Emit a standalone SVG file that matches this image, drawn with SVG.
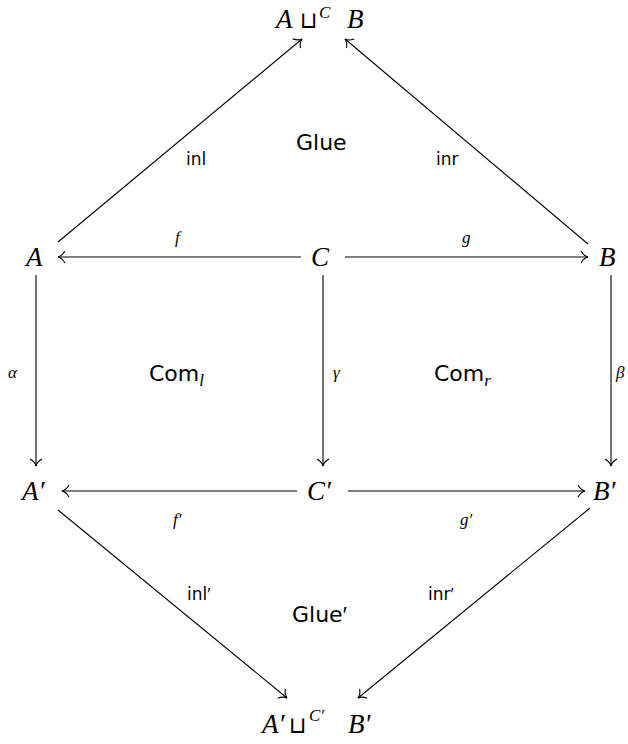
<svg xmlns="http://www.w3.org/2000/svg" width="628" height="744" viewBox="0 0 628 744">
<style>
.m{font-family:"Liberation Serif","DejaVu Serif",serif;font-style:italic;font-size:27px;fill:#000}
.ml{font-family:"Liberation Serif","DejaVu Serif",serif;font-style:italic;font-size:17px;fill:#000}
.cup{font-family:"DejaVu Sans",sans-serif;font-style:normal;font-size:23px}
.s{font-family:"DejaVu Sans","Liberation Sans",sans-serif;font-size:17px;fill:#000}
.b{font-family:"DejaVu Sans","Liberation Sans",sans-serif;font-size:22px;fill:#000}
.p{font-family:"Liberation Sans",sans-serif}
.e{stroke:#000;stroke-width:1.1;fill:none;marker-end:url(#to)}
</style>
<defs>
<marker id="to" markerUnits="userSpaceOnUse" markerWidth="20" markerHeight="20" refX="0" refY="0" viewBox="-10 -10 20 20" orient="auto" overflow="visible">
<path d="M-7,-6 C-5,-2.5 -2.5,-0.6 0,0 C-2.5,0.6 -5,2.5 -7,6" stroke="#000" stroke-width="1.1" fill="none"/>
</marker>
</defs>
<g id="connectors">
<path class="e" d="M58,242 L302,39"/>
<path class="e" d="M588,244 L345,39"/>
<path class="e" d="M301,257 L58,257"/>
<path class="e" d="M345,257 L588,257"/>
<path class="e" d="M36,275 L36,466"/>
<path class="e" d="M323,275 L323,466"/>
<path class="e" d="M611,275 L611,466"/>
<path class="e" d="M297,491 L62,491"/>
<path class="e" d="M348,491 L585,491"/>
<path class="e" d="M58,510 L287,698"/>
<path class="e" d="M590,508 L358,698"/>
</g>
<g id="labels">
<text class="s" x="186" y="165">inl</text>
<text class="s" x="436" y="165">inr</text>
<text class="b" x="296" y="150">Glue</text>
<text class="ml" x="175" y="243">f</text>
<text class="ml" x="462" y="243">g</text>
<text class="ml" x="8" y="378">α</text>
<text class="ml" x="333" y="378">γ</text>
<text class="ml" x="616" y="378">β</text>
<text class="b" x="149" y="381">Com<tspan class="ml" font-size="16px" dy="5">l</tspan></text>
<text class="b" x="434" y="381">Com<tspan class="ml" font-size="16px" dy="5">r</tspan></text>
<text class="ml" x="173" y="525">f′</text>
<text class="ml" x="460" y="525">g′</text>
<text class="s" x="187" y="600">inl<tspan class="p">′</tspan></text>
<text class="s" x="428" y="600">inr<tspan class="p">′</tspan></text>
<text class="b" x="292" y="622">Glue<tspan class="p">′</tspan></text>
</g>
<g id="n_top"><text class="m" x="276" y="28">A</text><text class="cup" x="300" y="28">⊔</text><text class="ml" x="319" y="18">C</text><text class="m" x="347" y="28">B</text></g>
<g id="n_A"><text class="m" x="26" y="266">A</text></g>
<g id="n_C"><text class="m" x="311" y="266">C</text></g>
<g id="n_B"><text class="m" x="599" y="266">B</text></g>
<g id="n_A2"><text class="m" x="22" y="500">A′</text></g>
<g id="n_C2"><text class="m" x="307" y="500">C′</text></g>
<g id="n_B2"><text class="m" x="593" y="500">B′</text></g>
<g id="n_bottom"><text class="m" x="262" y="733">A′</text><text class="cup" x="289" y="733">⊔</text><text class="ml" x="309" y="721">C′</text><text class="m" x="348" y="733">B′</text></g>
</svg>
